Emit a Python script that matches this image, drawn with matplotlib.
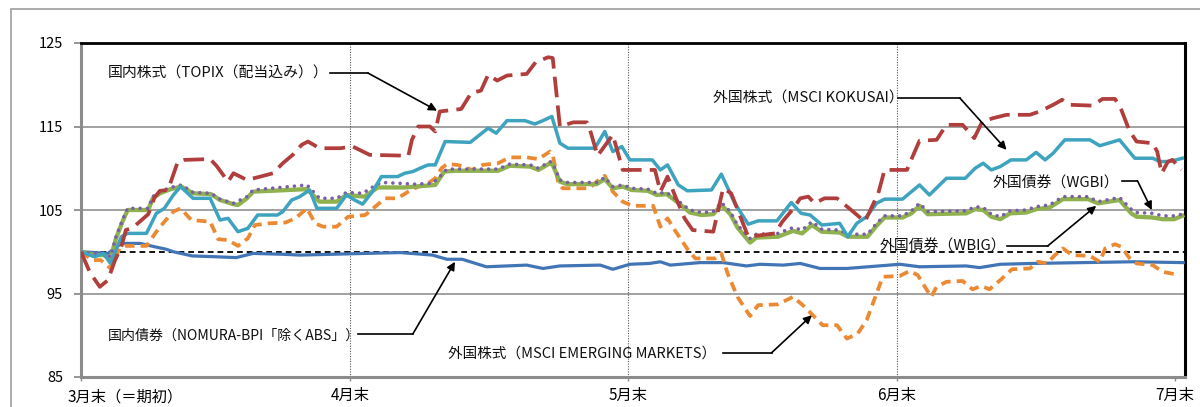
import matplotlib
matplotlib.use('Agg')
import matplotlib.pyplot as plt
from matplotlib.patches import Rectangle

plt.rcParams['font.family'] = ['Noto Sans CJK JP', 'DejaVu Sans']

# (days after end of March, index with end of March = 100)
topix = [(0, 100), (1.0, 97.5), (2.1, 95.8), (3.0, 96.6), (3.8, 99.0), (4.5, 100.6), (5.0, 102.6), (5.8, 102.9),
         (7.5, 104.5), (8.2, 106.5), (8.8, 107.3), (9.7, 107.4), (10.8, 110.8), (11.5, 111.0), (14.4, 111.1),
         (15.1, 110.3), (16.4, 108.4), (17.0, 109.4), (18.5, 108.6), (20.0, 109.0), (21.4, 109.4), (22.5, 110.6),
         (23.6, 111.6), (24.6, 112.8), (25.3, 113.2), (26.6, 112.4), (28.9, 112.4), (30.3, 112.6), (32.2, 111.6),
         (36.5, 111.5), (36.9, 113.4), (37.6, 115.0), (38.9, 115.0), (39.5, 114.4), (40.0, 116.8), (42.4, 117.1),
         (43.5, 119.0), (44.6, 119.3), (45.4, 121.2), (46.4, 120.5), (47.5, 121.1), (49.7, 121.3), (50.7, 122.7),
         (52.1, 123.3), (52.6, 123.2), (53.4, 115.0), (54.9, 115.5), (56.4, 115.5), (56.7, 114.8), (57.6, 111.5),
         (59.3, 114.0), (60.4, 109.8), (64.0, 109.8), (64.6, 107.2), (65.4, 109.0), (66.2, 106.8), (67.3, 104.0),
         (68.2, 102.6), (70.5, 102.4), (71.6, 107.6), (72.5, 107.0), (74.4, 101.8), (77.4, 102.2), (78.2, 103.6),
         (79.3, 105.0), (80.2, 106.4), (81.1, 106.6), (81.8, 105.8), (82.9, 106.4), (84.3, 106.4), (86.1, 104.8),
         (87.4, 103.6), (88.9, 107.0), (89.6, 109.8), (92.1, 109.8), (92.4, 110.6), (93.5, 113.3), (95.4, 113.4),
         (96.5, 115.2), (98.3, 115.2), (99.6, 113.6), (100.5, 115.6), (101.7, 116.0), (103.2, 116.4), (105.8, 116.4),
         (106.9, 116.8), (108.4, 117.6), (109.4, 118.2), (110.3, 117.6), (112.8, 117.5), (113.9, 118.3),
         (115.3, 118.3), (116.0, 117.0), (116.9, 114.5), (117.7, 113.2), (119.5, 113.0), (120.0, 112.0),
         (120.5, 109.4), (121.2, 110.8), (121.7, 111.0), (122.7, 109.8)]

kokusai = [(0, 100), (1.5, 99.4), (2.5, 99.8), (3.3, 98.6), (4.5, 101.8), (5.2, 102.2), (7.3, 102.2), (8.4, 104.6),
           (9.3, 105.2), (10.3, 106.8), (11.1, 107.8), (12.5, 106.4), (14.4, 106.4), (15.5, 103.8), (16.4, 104.0),
           (17.5, 102.4), (18.6, 102.8), (19.7, 104.4), (21.9, 104.4), (22.5, 104.8), (23.5, 106.2), (24.4, 106.6),
           (25.5, 107.4), (26.3, 105.2), (28.5, 105.2), (29.6, 106.8), (30.5, 106.2), (31.4, 105.7), (32.5, 107.2),
           (33.5, 109.0), (35.3, 109.0), (36.1, 109.4), (37.0, 109.6), (37.8, 110.0), (38.7, 110.4), (39.5, 110.4),
           (40.6, 113.2), (43.4, 113.1), (45.4, 114.8), (46.3, 114.2), (47.5, 115.7), (49.5, 115.7), (50.6, 115.3),
           (51.5, 115.7), (52.5, 116.2), (53.4, 113.0), (54.3, 112.4), (57.3, 112.4), (58.4, 114.4), (59.3, 112.0),
           (60.3, 112.6), (61.2, 111.0), (63.7, 111.0), (64.6, 109.8), (65.4, 110.4), (66.6, 108.0), (67.6, 107.3),
           (70.3, 107.4), (71.4, 109.3), (72.9, 105.8), (74.4, 103.3), (75.5, 103.7), (77.6, 103.7), (79.2, 105.9),
           (80.3, 104.6), (81.3, 104.4), (82.6, 103.2), (84.6, 103.4), (85.5, 101.8), (86.5, 103.4), (87.6, 104.2),
           (88.7, 105.8), (89.6, 106.3), (91.6, 106.3), (92.6, 107.2), (93.5, 108.0), (94.6, 106.8), (96.5, 108.8),
           (98.6, 108.8), (99.7, 110.0), (100.6, 110.6), (101.5, 109.8), (102.5, 110.2), (103.7, 111.0),
           (105.4, 111.0), (106.5, 111.9), (107.5, 111.0), (108.4, 111.8), (109.7, 113.4), (112.5, 113.4),
           (113.6, 112.7), (115.8, 113.4), (117.5, 111.2), (119.5, 111.2), (120.3, 110.8), (121.4, 110.8),
           (122.8, 111.2)]

emerging = [(0, 100), (1.3, 99.0), (2.2, 99.0), (3.3, 98.0), (4.3, 100.4), (5.0, 100.7), (7.3, 100.7), (8.4, 102.4),
            (9.3, 103.6), (10.3, 104.8), (11.1, 105.2), (12.3, 103.8), (14.4, 103.6), (15.3, 101.5), (16.4, 101.4),
            (17.5, 100.7), (18.6, 101.6), (19.4, 103.2), (20.9, 103.4), (22.8, 103.5), (23.9, 104.0), (25.2, 105.2),
            (26.1, 103.4), (27.0, 103.0), (28.5, 103.0), (29.8, 104.2), (31.7, 104.4), (32.8, 105.4), (33.9, 106.4),
            (35.3, 106.4), (36.5, 107.2), (37.6, 107.8), (38.7, 108.2), (39.5, 108.8), (40.2, 110.0), (40.8, 110.5),
            (42.0, 110.4), (43.6, 109.8), (44.8, 110.4), (46.5, 110.6), (47.8, 111.3), (49.7, 111.3), (51.0, 111.1),
            (52.3, 112.0), (52.6, 111.6), (53.2, 108.4), (53.7, 107.6), (56.7, 107.6), (57.5, 108.4), (58.4, 109.1),
            (59.3, 107.2), (60.4, 106.0), (61.5, 105.5), (63.8, 105.5), (64.6, 103.0), (65.4, 104.0), (66.2, 102.6),
            (67.7, 100.2), (68.5, 99.2), (70.7, 99.2), (71.4, 99.8), (72.1, 97.4), (73.2, 94.6), (74.6, 92.3),
            (75.5, 93.6), (77.7, 93.7), (79.4, 94.6), (80.7, 93.4), (81.6, 92.4), (82.7, 91.2), (84.3, 91.2),
            (85.4, 89.6), (86.6, 90.2), (87.6, 91.8), (88.5, 94.4), (89.4, 97.0), (91.3, 97.1), (92.4, 97.7),
            (93.3, 97.2), (94.1, 95.8), (94.8, 94.6), (95.4, 95.8), (96.5, 96.4), (98.3, 96.5), (99.4, 95.5),
            (100.4, 95.9), (101.3, 95.5), (102.5, 96.6), (103.8, 97.9), (105.8, 98.0), (106.7, 98.8), (107.7, 98.6),
            (108.6, 99.6), (109.5, 100.4), (110.5, 99.6), (112.5, 99.5), (113.6, 98.8), (114.2, 100.4),
            (115.3, 100.9), (116.0, 100.6), (117.0, 99.1), (117.7, 98.6), (119.5, 98.4), (120.6, 97.6), (122.5, 97.2)]

wgbi = [(0, 100), (1.5, 99.8), (2.5, 99.8), (3.3, 99.4), (3.9, 101.8), (4.7, 104.0), (5.2, 105.2), (7.5, 105.2),
        (8.0, 106.6), (8.8, 107.2), (10.0, 107.7), (11.2, 108.0), (12.5, 107.1), (14.5, 107.0), (15.5, 106.3),
        (17.0, 105.8), (18.5, 106.6), (19.2, 107.4), (25.2, 108.0), (26.6, 106.4), (28.5, 106.4), (29.6, 107.1),
        (31.4, 107.0), (32.9, 108.0), (33.5, 108.3), (37.2, 108.1), (39.2, 108.2), (40.2, 109.2), (40.8, 109.9),
        (46.5, 109.9), (47.8, 110.5), (50.1, 110.4), (51.0, 110.0), (52.3, 110.8), (52.6, 110.6), (53.4, 108.6),
        (54.2, 108.3), (57.5, 108.3), (58.4, 108.9), (59.3, 107.8), (60.4, 108.0), (61.4, 107.6), (63.2, 107.5),
        (64.2, 107.0), (65.3, 107.1), (66.2, 106.4), (67.9, 105.0), (69.2, 104.7), (70.5, 104.8), (71.4, 105.9),
        (72.4, 104.8), (73.2, 103.2), (74.6, 101.6), (75.3, 102.1), (77.7, 102.2), (79.4, 102.9), (80.4, 102.6),
        (81.5, 103.6), (82.6, 102.7), (84.6, 102.6), (85.5, 102.1), (87.7, 102.1), (88.7, 103.4), (89.6, 104.3),
        (91.6, 104.3), (92.6, 104.9), (93.5, 105.8), (94.4, 104.8), (98.7, 104.9), (99.7, 105.4), (100.6, 105.3),
        (101.5, 104.5), (102.5, 104.2), (103.6, 104.9), (105.4, 105.0), (106.5, 105.4), (108.0, 105.6),
        (109.5, 106.6), (112.3, 106.6), (113.4, 106.0), (115.8, 106.5), (117.1, 105.1), (117.7, 104.7),
        (119.5, 104.6), (120.6, 104.3), (121.9, 104.3), (122.8, 104.5)]

wbig = [(0, 100), (1.5, 99.6), (2.5, 99.6), (3.3, 99.2), (3.9, 101.6), (4.7, 103.8), (5.2, 105.0), (7.5, 105.0),
        (8.0, 106.4), (8.8, 107.0), (10.0, 107.5), (11.2, 107.8), (12.5, 107.0), (14.5, 106.9), (15.5, 106.2),
        (17.0, 105.7), (17.5, 105.6), (18.5, 106.4), (19.2, 107.2), (25.2, 107.5), (26.6, 106.0), (28.5, 106.0),
        (29.6, 106.8), (31.6, 106.6), (33.1, 107.7), (36.1, 107.7), (39.5, 108.0), (40.5, 109.6), (41.7, 109.7),
        (46.5, 109.7), (47.8, 110.3), (50.1, 110.2), (51.0, 109.8), (52.3, 110.6), (52.6, 110.4), (53.4, 108.4),
        (54.2, 108.1), (57.5, 108.1), (58.4, 108.7), (59.3, 107.6), (60.4, 107.8), (61.4, 107.4), (63.2, 107.3),
        (64.2, 106.8), (65.3, 106.9), (66.2, 106.2), (67.9, 104.7), (69.2, 104.4), (70.5, 104.5), (71.4, 105.6),
        (72.4, 104.5), (73.2, 102.9), (74.6, 101.1), (75.3, 101.7), (77.7, 101.8), (79.4, 102.5), (80.4, 102.2),
        (81.5, 103.2), (82.6, 102.4), (84.6, 102.3), (85.5, 101.8), (87.7, 101.8), (88.7, 103.1), (89.6, 104.1),
        (91.6, 104.1), (92.6, 104.6), (93.5, 105.5), (94.4, 104.5), (98.7, 104.6), (99.7, 105.1), (100.6, 105.0),
        (101.5, 104.2), (102.5, 103.9), (103.6, 104.6), (105.4, 104.7), (106.5, 105.1), (108.0, 105.3),
        (109.5, 106.3), (112.3, 106.3), (113.4, 105.8), (115.8, 106.2), (117.1, 104.6), (117.7, 104.2),
        (119.5, 104.1), (120.6, 103.9), (121.9, 103.9), (122.8, 104.3)]

nomura = [(0, 100), (1.5, 99.9), (3.0, 99.8), (4.5, 101.0), (6.6, 101.0), (8.2, 100.6), (9.5, 100.3), (10.3, 100.0),
          (12.4, 99.5), (15.0, 99.4), (17.3, 99.3), (19.2, 99.8), (22.5, 99.7), (24.4, 99.6), (31.7, 99.8),
          (35.6, 99.9), (39.2, 99.6), (40.8, 99.1), (42.5, 99.1), (45.2, 98.2), (49.7, 98.4), (51.5, 98.0),
          (53.4, 98.3), (57.9, 98.4), (59.3, 97.9), (61.2, 98.5), (63.4, 98.6), (64.6, 98.8), (65.7, 98.4),
          (69.0, 98.7), (71.6, 98.7), (74.2, 98.3), (75.7, 98.5), (78.3, 98.4), (80.2, 98.6), (82.4, 98.0),
          (85.4, 98.0), (91.3, 98.5), (93.5, 98.2), (98.7, 98.3), (100.2, 98.1), (102.5, 98.5), (106.1, 98.6),
          (117.3, 98.8), (122.9, 98.7)]

month_days = [0, 30, 61, 91, 122]
month_labels = ['', '4月末', '5月末', '6月末', '7月末']
first_label = '3月末（＝期初）'
y_ticks = [85, 95, 105, 115, 125]

# label text, font size, text position, elbow of leader, arrow head
notes = [
    ('国内株式（TOPIX（配当込み））', 10.7, (3.0, 121.3), (27.8, 121.4), (32.0, 121.4), (39.7, 116.9)),
    ('外国株式（MSCI KOKUSAI）', 10.7, (70.5, 118.3), (91.1, 118.4), (98.0, 118.4), (103.2, 112.2)),
    ('外国債券（WGBI）', 10.7, (101.7, 108.2), (116.1, 108.5), (117.8, 108.5), (119.4, 105.0)),
    ('外国債券（WBIG）', 10.7, (89.1, 100.6), (103.3, 100.7), (107.8, 100.7), (113.2, 105.5)),
    ('国内債券（NOMURA-BPI「除くABS」）', 10.1, (3.0, 90.0), (30.9, 90.15), (37.0, 90.15), (41.7, 98.8)),
    ('外国株式（MSCI EMERGING MARKETS）', 10.5, (40.9, 87.8), (71.6, 87.9), (77.0, 87.9), (81.5, 92.4)),
]


def xy(pairs):
    return [p[0] for p in pairs], [p[1] for p in pairs]


fig = plt.figure(figsize=(12, 4.07), dpi=100)
ax = fig.add_axes([81 / 1200, 1 - 377 / 407, (1185 - 81) / 1200, (377 - 43) / 407])

# outer chart frame
fig.patches.append(Rectangle((10.5 / 1200, -0.1), 1.2, 1 - 9.5 / 407 + 0.1, transform=fig.transFigure,
                             fill=False, edgecolor='#A6A6A6', linewidth=1.3))

for v in [95, 105, 115]:
    ax.axhline(v, color='#9A9A9A', lw=1.3, zorder=1)
for d in month_days[1:4]:
    ax.axvline(d, color='#555555', lw=0.8, linestyle=(0, (1, 1.3)), zorder=1)
ax.axhline(100, color='black', lw=1.3, linestyle=(0, (3.2, 2.2)), zorder=2)

x, y = xy(nomura)
ax.plot(x, y, color='#4275B5', lw=2.3, zorder=3)
x, y = xy(emerging)
ax.plot(x, y, color='#EB8A33', lw=2.7, linestyle=(0, (2.6, 1.6)), zorder=4)
x, y = xy(wbig)
ax.plot(x, y, color='#8FB24E', lw=3.1, zorder=5)
x, y = xy(wgbi)
ax.plot(x, y, color='#7B5EA7', lw=2.6, linestyle=(0, (0.01, 2.0)), dash_capstyle='round', zorder=6)
x, y = xy(kokusai)
ax.plot(x, y, color='#3DA3BE', lw=2.5, zorder=7)
x, y = xy(topix)
ax.plot(x, y, color='#B03E3C', lw=2.7, linestyle=(0, (5.5, 2.2)), zorder=8)

for text, size, pos, p1, p2, head in notes:
    ax.text(pos[0], pos[1], text, fontsize=size, va='center', ha='left', color='#111111', zorder=1.5)
    ax.plot([p1[0], p2[0]], [p1[1], p2[1]], color='black', lw=1.2, zorder=9)
    ax.annotate('', xy=head, xytext=p2,
                arrowprops=dict(arrowstyle='-|>', color='black', lw=1.2, mutation_scale=12,
                                shrinkA=0, shrinkB=0), zorder=9)

ax.set_xlim(0, 123.1)
ax.set_ylim(85, 125)
ax.set_yticks(y_ticks)
ax.set_yticklabels([str(t) for t in y_ticks], fontsize=10.5)
ax.set_xticks(month_days)
ax.set_xticklabels(month_labels, fontsize=11)
ax.annotate(first_label, xy=(0, 0), xycoords=('data', 'axes fraction'), xytext=(-10, -8),
            textcoords='offset points', ha='left', va='top', fontsize=11)

ax.tick_params(axis='y', direction='out', length=5, width=1.3, color='#8C8C8C', pad=8)
ax.tick_params(axis='x', direction='out', length=3, width=1.0, color='#8C8C8C', pad=4)

ax.spines['left'].set_color('#8C8C8C')
ax.spines['left'].set_linewidth(2.2)
ax.spines['bottom'].set_color('#8C8C8C')
ax.spines['bottom'].set_linewidth(2.2)
ax.spines['top'].set_color('black')
ax.spines['top'].set_linewidth(2.0)
ax.spines['right'].set_color('black')
ax.spines['right'].set_linewidth(2.2)

fig.savefig('out.png', dpi=100)
